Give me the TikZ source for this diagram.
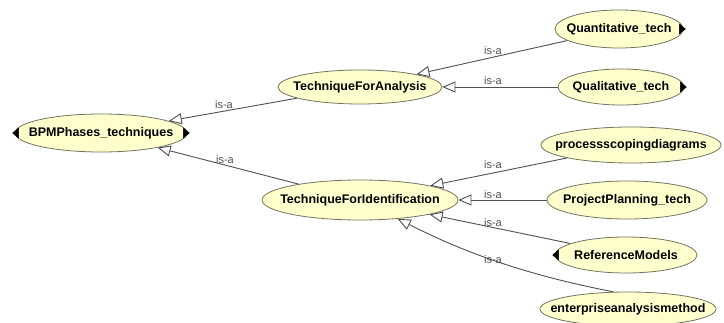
\documentclass[tikz,border=0pt]{standalone}
\usepackage{fontspec}
\setmainfont{Liberation Sans}
\usetikzlibrary{shapes.geometric,arrows.meta}

\definecolor{clsfill}{RGB}{255,255,206}
\definecolor{clsline}{RGB}{115,115,95}
\definecolor{edgegray}{RGB}{80,80,80}
\newcommand{\cname}[1]{\makebox[0pt]{#1}}

\tikzset{
  cls/.style={ellipse, draw=clsline, fill=clsfill, inner sep=0pt, line width=0.8pt,
    font=\fontsize{12.5}{14}\selectfont\bfseries},
  isa/.style={font=\fontsize{11}{12}\selectfont, text=edgegray, inner sep=0pt},
  isaline/.style={draw=edgegray, line width=0.9pt,
    -{Triangle[open, fill=white, length=13pt, width=11pt]}},
  hidden/.style={fill=black}
}

\begin{document}
\begin{tikzpicture}[x=1pt,y=-1pt]
\useasboundingbox (0,0) rectangle (724,323);
\node[cls, minimum width=172pt, minimum height=38pt] (bpm) at (101,133) {\cname{BPMPhases\_techniques}};
\node[cls, minimum width=164pt, minimum height=34pt] (tfa) at (360,87) {\cname{TechniqueForAnalysis}};
\node[cls, minimum width=196pt, minimum height=40pt] (tfi) at (360,200) {\cname{TechniqueForIdentification}};
\node[cls, minimum width=128pt, minimum height=38pt] (quant) at (619,29) {\cname{Quantitative\_tech}};
\node[cls, minimum width=126pt, minimum height=36pt] (qual) at (621,87) {\cname{Qualitative\_tech}};
\node[cls, minimum width=180pt, minimum height=36pt] (proc) at (631,145) {\cname{processscopingdiagrams}};
\node[cls, minimum width=160pt, minimum height=38pt] (proj) at (627,200) {\cname{ProjectPlanning\_tech}};
\node[cls, minimum width=142pt, minimum height=36pt] (ref) at (626,255) {\cname{ReferenceModels}};
\node[cls, minimum width=176pt, minimum height=34pt] (ent) at (628,309) {\cname{enterpriseanalysismethod}};

\draw[hidden] (bpm.west) ++(-2,0) -- ++(6,-5) -- ++(0,10) -- cycle;
\draw[hidden] (bpm.east) ++(2,0) -- ++(-6,-5) -- ++(0,10) -- cycle;
\draw[hidden] (quant.east) ++(2,0) -- ++(-6,-5) -- ++(0,10) -- cycle;
\draw[hidden] (qual.east) ++(2,0) -- ++(-6,-5) -- ++(0,10) -- cycle;
\draw[hidden] (ref.west) ++(-2,0) -- ++(6,-5) -- ++(0,10) -- cycle;

\draw[isaline] (tfa) -- (bpm);
\draw[isaline] (tfi) -- (bpm);
\draw[isaline] (quant) -- (tfa);
\draw[isaline] (qual) -- (tfa);
\draw[isaline] (proc) -- (tfi);
\draw[isaline] (proj) -- (tfi);
\draw[isaline] (ref) -- (tfi);
\draw[isaline] (ent.130) .. controls (510,272) and (450,245) .. (tfi);

\node[isa] (l1) at (224,105) {is-a};
\node[isa] (l2) at (225,160) {is-a};
\node[isa] (l3) at (493,51) {is-a};
\node[isa] (l4) at (493,81) {is-a};
\node[isa] (l5) at (493,165) {is-a};
\node[isa] (l6) at (493,195) {is-a};
\node[isa] (l7) at (493,223) {is-a};
\node[isa] (l8) at (493,260) {is-a};
\end{tikzpicture}
\end{document}
